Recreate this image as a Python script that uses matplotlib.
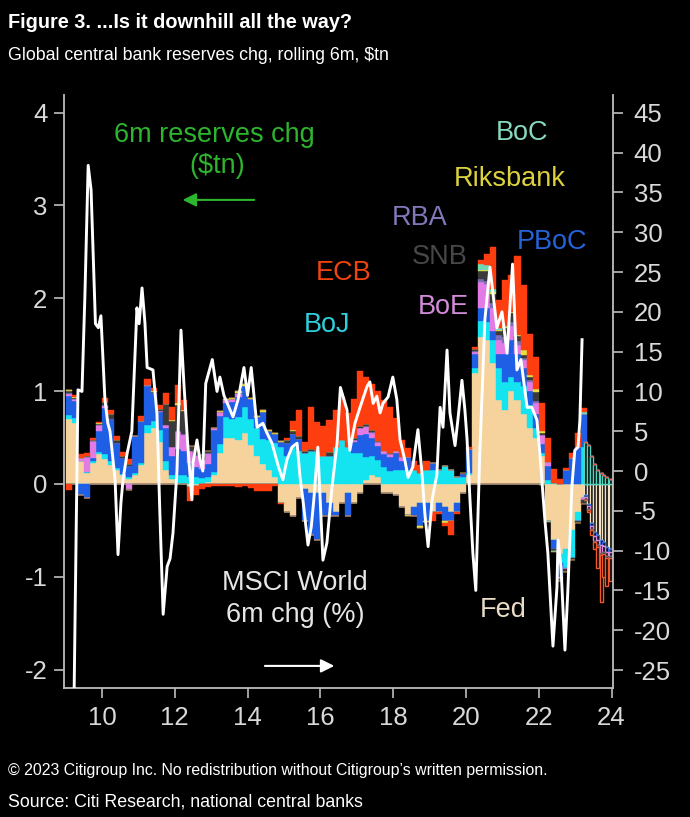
import numpy as np
import matplotlib
matplotlib.use('Agg')
import matplotlib.pyplot as plt

plt.rcParams['axes.unicode_minus'] = False
plt.rcParams['font.family'] = ['Liberation Sans', 'DejaVu Sans']

# ---------------- data (bi-monthly bars, $tn, rolling 6m change) ----------------
fed = [0.70,0.66,0.25,0.12,0.23,0.32,0.27,0.20,0.15,0.10,
       0.05,0.10,0.20,0.55,0.60,0.45,0.15,0.05,0.00,0.00,
       -0.03,-0.02,0.00,0.02,0.10,0.33,0.50,0.50,0.47,0.55,
       0.42,0.30,0.22,0.15,0.08,-0.20,-0.30,-0.35,-0.15,-0.05,
       -0.10,-0.10,-0.10,-0.20,-0.30,-0.20,-0.10,-0.20,-0.10,0.04,
       0.10,0.08,-0.10,-0.10,-0.12,-0.25,-0.33,-0.25,-0.20,-0.20,
       -0.30,-0.20,-0.25,-0.30,-0.20,-0.10,0.10,1.20,1.58,1.55,
       1.30,0.90,0.80,1.00,0.90,0.75,0.60,0.50,0.30,-0.40,
       -0.60,-0.75,-0.70,-0.50,-0.30,-0.15]
boj = [0.04,0.05,0.00,0.01,0.02,0.02,0.05,0.05,0.02,0.01,
       0.02,0.02,0.03,0.08,0.08,0.13,0.10,0.05,0.10,0.10,
       0.08,0.08,0.06,0.05,0.03,0.10,0.22,0.20,0.25,0.28,
       0.28,0.30,0.26,0.32,0.36,0.40,0.30,0.40,0.36,0.33,
       0.35,0.35,0.30,0.30,0.40,0.47,0.40,0.33,0.33,0.25,
       0.20,0.18,0.18,0.14,0.15,0.15,0.15,0.15,0.12,0.15,
       0.15,0.15,0.19,0.15,0.08,0.08,0.02,0.05,0.18,0.20,
       0.25,0.35,0.30,0.15,0.20,0.30,0.25,0.10,0.03,0.04,
       0.01,-0.10,-0.20,-0.30,-0.10,0.40]
ecb = [-0.07,0.02,0.04,0.03,0.03,0.01,0.05,0.05,0.05,0.04,
       0.05,0.00,0.05,0.06,0.03,0.04,0.12,0.14,0.20,0.10,
       -0.15,-0.10,-0.05,-0.03,-0.02,-0.02,-0.02,-0.02,-0.03,-0.02,
       -0.04,-0.08,-0.08,-0.08,-0.02,-0.02,0.02,0.10,0.28,0.10,
       0.45,0.30,0.32,0.35,0.40,0.47,0.36,0.43,0.60,0.50,
       0.50,0.54,0.54,0.50,0.36,0.18,0.10,0.10,0.08,0.10,
       -0.10,-0.02,-0.03,-0.15,-0.02,0.00,0.02,0.02,0.04,0.12,
       0.45,0.30,0.50,0.40,0.85,0.70,0.45,0.35,0.30,0.25,
       0.15,0.05,0.02,0.05,0.15,0.05]
boe = [0.02,0.03,0.03,0.16,0.18,0.06,0.02,0.00,0.00,0.00,
       -0.05,0.00,0.00,0.00,0.00,0.01,0.04,0.10,0.18,0.18,
       0.12,0.12,0.10,0.10,0.02,0.04,0.03,0.04,0.03,0.00,
       0.00,0.00,0.00,0.00,0.00,0.00,0.00,0.00,0.00,0.00,
       0.00,0.00,0.00,0.00,0.00,0.00,0.00,0.02,0.07,0.07,
       0.05,0.04,0.03,0.03,0.02,0.04,0.00,0.00,0.00,0.00,
       0.00,0.00,0.00,0.00,0.00,0.00,0.00,0.02,0.28,0.25,
       0.25,0.15,0.12,0.15,0.10,0.08,0.10,0.12,0.10,0.05,
       0.00,-0.02,-0.02,0.00,0.00,-0.02]
snb = [0.02,0.01,0.00,0.01,0.01,0.01,0.03,0.05,0.03,0.02,
       0.03,0.00,0.00,0.00,0.01,0.02,0.22,0.28,0.28,0.25,
       0.06,0.10,0.05,0.02,0.00,0.00,0.00,0.00,0.00,0.00,
       0.00,0.00,0.00,0.00,0.00,0.00,0.03,0.03,0.04,0.02,
       0.03,0.02,0.00,0.04,0.00,0.00,0.00,0.02,0.02,0.03,
       0.02,0.01,0.01,0.01,0.00,0.00,0.00,0.00,0.00,0.00,
       0.00,0.00,0.00,0.00,0.00,0.01,0.00,0.02,0.08,0.10,
       0.10,0.05,0.10,0.10,0.05,0.03,0.03,0.10,0.02,0.00,
       -0.02,-0.02,-0.03,-0.02,-0.02,-0.05]
rba = [0.01,0.00,0.00,0.00,0.00,0.01,0.01,0.00,0.00,0.00,
       -0.02,0.00,0.00,0.01,0.00,0.00,0.00,0.00,0.01,0.01,
       0.00,0.01,0.00,0.01,0.00,0.01,0.00,0.00,0.01,0.00,
       0.00,0.00,0.00,0.00,0.00,0.00,0.00,0.00,0.00,0.00,
       0.00,0.00,0.00,0.00,0.00,0.00,0.00,0.00,0.00,0.01,
       0.01,0.00,0.00,0.00,0.00,0.00,0.00,0.00,0.00,0.00,
       0.00,0.00,0.00,0.00,0.00,0.00,0.00,0.01,0.03,0.04,
       0.05,0.05,0.06,0.04,0.04,0.03,0.02,0.02,0.00,0.00,
       0.00,0.00,0.00,0.00,0.00,0.00]
pboc = [0.21,0.18,-0.12,-0.15,0.03,0.23,0.50,0.45,0.27,0.17,
        0.12,0.40,0.45,0.43,0.30,0.20,0.35,0.20,0.28,0.25,
        0.15,0.10,0.10,0.15,0.45,0.30,0.15,0.18,0.22,0.23,
        0.22,0.12,0.30,0.10,0.10,0.05,0.14,0.14,0.12,-0.35,
        -0.45,-0.50,-0.25,-0.15,-0.05,0.00,-0.25,0.12,0.20,0.25,
        0.20,0.15,0.14,0.15,0.18,0.10,0.14,-0.10,-0.25,-0.20,
        0.08,-0.10,-0.15,-0.10,-0.10,0.03,0.26,0.15,0.14,0.15,
        0.10,0.15,0.30,0.40,0.30,0.20,0.15,0.15,0.10,0.15,
        -0.10,-0.15,0.15,0.28,0.40,0.35]
riks = [0.01,0.01,0.00,0.00,0.00,0.01,0.00,0.00,0.00,0.00,
        0.00,0.00,0.00,0.00,0.01,0.00,0.00,0.01,0.02,0.01,
        0.00,0.00,0.00,0.01,0.00,0.01,0.01,0.01,0.02,0.02,
        0.01,0.01,0.02,0.01,0.01,0.01,0.00,0.01,0.00,0.00,
        0.00,0.00,0.00,0.00,0.00,0.00,0.00,0.00,0.00,0.00,
        0.00,0.00,0.00,0.00,0.00,0.00,-0.02,0.00,-0.02,-0.01,
        0.00,0.00,-0.02,0.00,0.00,0.00,0.00,0.00,0.02,0.02,
        0.02,0.01,0.01,0.01,0.02,0.05,0.02,0.03,0.02,0.00,
        0.00,-0.01,0.00,0.00,0.00,0.00]
boc = [0.00,0.00,0.00,0.00,0.00,0.00,0.00,0.00,0.00,0.00,
       0.00,0.00,0.00,0.00,0.00,0.00,0.00,0.00,0.00,0.00,
       0.00,0.00,0.00,0.00,0.00,0.00,0.00,0.00,0.00,0.00,
       0.00,0.00,0.00,0.00,0.00,0.00,0.00,0.00,0.00,0.00,
       0.00,0.00,0.00,0.00,0.00,0.00,0.00,0.00,0.00,0.00,
       0.00,0.00,0.00,0.00,0.00,0.00,0.00,0.00,0.00,0.00,
       0.00,0.00,0.00,0.00,0.00,0.00,0.00,0.00,0.06,0.05,
       0.03,0.02,0.01,0.00,0.00,0.00,0.00,0.00,-0.01,-0.01,
       -0.01,0.00,0.00,0.00,0.00,0.02]

# projection months (hollow bars)
fc_years = [2023.25, 2023.33, 2023.42, 2023.50, 2023.58, 2023.67, 2023.75, 2023.83, 2023.92]
fc_fed  = [-0.12,-0.22,-0.42,-0.52,-0.55,-0.60,-0.62,-0.68,-0.70]
fc_boj  = [0.45,0.42,0.30,0.22,0.15,0.12,0.10,0.08,0.05]
fc_ecb  = [0.00,-0.02,-0.05,-0.08,-0.22,-0.50,-0.25,-0.30,-0.25]
fc_boe  = [-0.02,-0.03,-0.04,-0.05,-0.06,-0.08,-0.06,-0.05,-0.05]
fc_pboc = [-0.02,-0.02,-0.03,-0.04,-0.05,-0.06,-0.05,-0.05,-0.03]
fc_snb  = [-0.01,-0.01,-0.01,-0.01,-0.02,-0.03,-0.02,-0.02,-0.02]

# MSCI World 6m change (%), right axis
msci_year = [2009.20,2009.34,2009.45,2009.53,2009.62,2009.70,2009.76,2009.82,2009.90,2009.97,
             2010.08,2010.16,2010.22,2010.36,2010.44,2010.52,2010.58,2010.69,2010.82,2010.96,
             2011.02,2011.10,2011.18,2011.24,2011.40,2011.51,2011.59,2011.68,2011.79,2011.87,
             2011.95,2012.06,2012.17,2012.25,2012.36,2012.47,2012.50,2012.61,2012.69,2012.77,
             2012.85,2013.03,2013.16,2013.24,2013.35,2013.60,2013.74,2013.90,2014.00,2014.10,
             2014.26,2014.42,2014.53,2014.67,2014.85,2014.97,2015.08,2015.22,2015.36,2015.44,
             2015.52,2015.66,2015.75,2015.82,2015.93,2016.07,2016.18,2016.32,2016.46,2016.55,
             2016.73,2016.81,2016.95,2017.09,2017.28,2017.36,2017.45,2017.55,2017.64,2017.72,
             2017.86,2017.99,2018.10,2018.19,2018.32,2018.41,2018.54,2018.68,2018.79,2018.87,
             2018.96,2019.07,2019.20,2019.29,2019.37,2019.48,2019.56,2019.70,2019.78,2019.89,
             2019.97,2020.03,2020.11,2020.19,2020.27,2020.38,2020.52,2020.66,2020.85,2020.99,
             2021.13,2021.28,2021.40,2021.51,2021.68,2021.81,2021.95,2022.03,2022.17,2022.25,
             2022.39,2022.50,2022.53,2022.61,2022.72,2022.80,2022.91,2022.99,2023.08,2023.13,
             2023.19]
msci_chg = [-40,10.2,10.0,22,38.4,35.3,27,18.5,18,19.5,
            9,6,5,-1.1,-10.5,-4,-1,2.2,5,20.5,
            18.5,23,18.6,13,12.7,7.2,-5.3,-18,-12,-11,
            -7.8,0,17.7,11,3,-3.6,1,3.9,1.4,0,
            11,14,10,11.8,9.5,6.8,9,13,9.5,13,
            5.5,6,4.8,3.5,0.5,-1.1,1.4,3,3.5,-0.7,
            -3.6,-9.3,-7,-3.6,3,-11.2,-9,-2,3.5,10.5,
            7.7,2.6,6,8,10.6,11.2,8.5,9.4,7.3,8.5,
            9.3,11.8,9,3.9,1.4,-0.8,0.5,5.2,-0.2,-5.3,
            -9.5,-3.6,-0.5,8,5.5,15.2,7.3,3.2,6.5,11.4,
            7.7,4,-3.6,-10.3,-15,2.2,19,25.6,18,20,
            14.8,26,12.7,14,8,8,6.4,2.2,-6.2,-10.3,
            -22,-14.6,-8.7,-12,-22.5,-15,-2,2.6,3,6.4,
            16.5]

x_ticks = [2010, 2012, 2014, 2016, 2018, 2020, 2022, 2024]
x_tick_labels = ['10', '12', '14', '16', '18', '20', '22', '24']
left_ticks = [-2, -1, 0, 1, 2, 3, 4]
right_ticks = [-25, -20, -15, -10, -5, 0, 5, 10, 15, 20, 25, 30, 35, 40, 45]

# ---------------- style ----------------
C = {'Fed': '#F6D39C', 'BoJ': '#14E3F0', 'PBoC': '#1E5FE6', 'BoE': '#E27BE6',
     'RBA': '#7C6FB8', 'SNB': '#3A3A3A', 'Riksbank': '#E6E03A', 'BoC': '#6FD9B4',
     'ECB': '#FF3E10'}
FC_EDGE = {'Fed': '#F3E2C4', 'BoJ': '#4FD6C0', 'PBoC': '#3A6FE0', 'BoE': '#E08BE0',
           'SNB': '#6A6A6A', 'ECB': '#F05A2A'}
LBL = {'Fed': '#E9DDC6', 'BoJ': '#2FCFDD', 'PBoC': '#2563D9', 'BoE': '#D58BDC',
       'RBA': '#8078B8', 'SNB': '#474747', 'Riksbank': '#DCD23E', 'BoC': '#86D9BC',
       'ECB': '#F0440E'}
AXC = '#BDBDBD'
TXT = '#D9D9D9'
NARROW = ['Liberation Sans Narrow', 'Liberation Sans', 'DejaVu Sans']

W, H = 690, 817
fig = plt.figure(figsize=(W / 100, H / 100), dpi=100, facecolor='black')
ax = fig.add_axes([64 / W, 1 - 688 / H, (613 - 64) / W, (688 - 95) / H])
ax.set_facecolor('black')
ax2 = ax.twinx()

years = 2009 + np.arange(len(fed)) / 6.0
order = [('Fed', fed), ('BoJ', boj), ('PBoC', pboc), ('BoE', boe), ('RBA', rba),
         ('SNB', snb), ('Riksbank', riks), ('BoC', boc), ('ECB', ecb)]
pos_b = np.zeros(len(years))
neg_b = np.zeros(len(years))
for name, vals in order:
    v = np.array(vals, dtype=float)
    p = np.where(v > 0, v, 0.0)
    q = np.where(v < 0, v, 0.0)
    ax.bar(years, p, width=1 / 6, bottom=pos_b, align='edge', color=C[name],
           edgecolor=C[name], linewidth=0.3, zorder=2)
    ax.bar(years, q, width=1 / 6, bottom=neg_b, align='edge', color=C[name],
           edgecolor=C[name], linewidth=0.3, zorder=2)
    pos_b += p
    neg_b += q

fc_order = [('Fed', fc_fed), ('BoJ', fc_boj), ('PBoC', fc_pboc), ('BoE', fc_boe),
            ('SNB', fc_snb), ('ECB', fc_ecb)]
fpos = np.zeros(len(fc_years))
fneg = np.zeros(len(fc_years))
for name, vals in fc_order:
    v = np.array(vals, dtype=float)
    p = np.where(v > 0, v, 0.0)
    q = np.where(v < 0, v, 0.0)
    ax.bar(fc_years, p, width=1 / 12, bottom=fpos, align='edge', facecolor='black',
           edgecolor=FC_EDGE[name], linewidth=1.0, zorder=2)
    ax.bar(fc_years, q, width=1 / 12, bottom=fneg, align='edge', facecolor='black',
           edgecolor=FC_EDGE[name], linewidth=1.0, zorder=2)
    fpos += p
    fneg += q

ax2.plot(msci_year, msci_chg, color='white', lw=2.1, zorder=5)

ax.set_xlim(2008.956, 2024.04)
ax.set_ylim(-2.198, 4.19)
ax2.set_ylim(-27.26, 47.24)

ax.set_xticks(x_ticks)
ax.set_xticklabels(x_tick_labels)
ax.set_yticks(left_ticks)
ax.set_yticklabels([str(t) for t in left_ticks])
ax2.set_yticks(right_ticks)
ax2.set_yticklabels([str(t) for t in right_ticks])

for s in ['top', 'right']:
    ax.spines[s].set_visible(False)
for s in ['top', 'left', 'bottom']:
    ax2.spines[s].set_visible(False)
for a, s in [(ax, 'left'), (ax, 'bottom'), (ax2, 'right')]:
    a.spines[s].set_color(AXC)
    a.spines[s].set_linewidth(1.3)

ax.tick_params(axis='both', direction='out', length=7, width=1.2, color=AXC,
               labelcolor=TXT, labelsize=18.5)
ax.tick_params(axis='y', pad=5)
ax.tick_params(axis='x', pad=6)
ax2.tick_params(axis='y', direction='out', length=7, width=1.2, color=AXC,
                labelcolor=TXT, labelsize=18.5, pad=8)

# ---------------- annotations ----------------
fs = 19.5
labels = [('BoC', 2021.54, 3.78), ('Riksbank', 2021.21, 3.28), ('RBA', 2018.74, 2.87),
          ('PBoC', 2022.36, 2.61), ('SNB', 2019.29, 2.45), ('ECB', 2016.65, 2.27),
          ('BoE', 2019.37, 1.91), ('BoJ', 2016.18, 1.71), ('Fed', 2021.02, -1.36)]
for name, x, y in labels:
    ax.text(x, y, name, color=LBL[name], fontsize=fs, ha='center', va='center', zorder=6)

GREEN = '#2DB52D'
ax.text(2013.10, 3.76, '6m reserves chg', color=GREEN, fontsize=fs, ha='center', va='center')
ax.text(2013.16, 3.42, '($tn)', color=GREEN, fontsize=fs, ha='center', va='center')
ax.annotate('', xy=(2012.14, 3.06), xytext=(2014.26, 3.06),
            arrowprops=dict(arrowstyle='-|>', color=GREEN, lw=1.5, mutation_scale=20))

ax.text(2015.30, -1.07, 'MSCI World', color='#E6E6E6', fontsize=fs, ha='center', va='center', zorder=6)
ax.text(2015.30, -1.41, '6m chg (%)', color='#E6E6E6', fontsize=fs, ha='center', va='center', zorder=6)
ax.annotate('', xy=(2016.46, -1.96), xytext=(2014.40, -1.96),
            arrowprops=dict(arrowstyle='-|>', color='white', lw=1.5, mutation_scale=20))

fig.text(8 / W, 1 - 22 / H, 'Figure 3. ...Is it downhill all the way?', color='white',
         fontsize=14.3, fontweight='bold', family=NARROW, ha='left', va='center')
fig.text(8 / W, 1 - 55 / H, 'Global central bank reserves chg, rolling 6m, $tn', color='white',
         fontsize=12.8, family=NARROW, ha='left', va='center')
fig.text(8 / W, 1 - 770 / H,
         '\u00a9 2023 Citigroup Inc. No redistribution without Citigroup\u2019s written permission.',
         color='white', fontsize=11.4, family=NARROW, ha='left', va='center')
fig.text(8 / W, 1 - 802 / H, 'Source: Citi Research, national central banks', color='white',
         fontsize=12.8, family=NARROW, ha='left', va='center')

fig.savefig('out.png', dpi=100, facecolor='black')
